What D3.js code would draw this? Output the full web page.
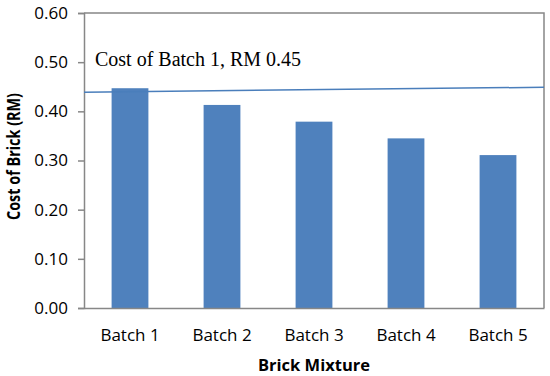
<!DOCTYPE html>
<html>
<head>
<meta charset="utf-8">
<script src="https://cdn.jsdelivr.net/npm/d3@7"></script>
<style>
  html, body { margin: 0; padding: 0; background: #fff; }
  svg { display: block; }
</style>
</head>
<body>
<svg id="chart" width="550" height="376"></svg>
<script>
const categories = ["Batch 1", "Batch 2", "Batch 3", "Batch 4", "Batch 5"];
const costValues = [0.447, 0.413, 0.379, 0.345, 0.311];
const yTicks = [0, 0.1, 0.2, 0.3, 0.4, 0.5, 0.6];
const refLineValues = [0.439, 0.449]; // start (left edge) and end (right edge)
const refLabel = "Cost of Batch 1, RM 0.45";
const xTitle = "Brick Mixture";
const yTitle = "Cost of Brick (RM)";

const svg = d3.select("#chart");
const plot = { left: 84, right: 544, top: 13, bottom: 308 };
const axisColor = "#878787";
const barColor = "#4f81bd";

const x = d3.scaleBand().domain(categories).range([plot.left, plot.right])
  .paddingInner(0.6).paddingOuter(0.3);
const y = d3.scaleLinear().domain([0, 0.6]).range([plot.bottom, plot.top]);

// frame (top and right)
svg.append("path")
  .attr("d", `M${plot.left},${plot.top}H${plot.right}V${plot.bottom}`)
  .attr("fill", "none").attr("stroke", axisColor).attr("stroke-width", 1.5);

// bars
svg.append("g").selectAll("rect").data(costValues).join("rect")
  .attr("x", (d, i) => x(categories[i]))
  .attr("y", d => y(d))
  .attr("width", x.bandwidth())
  .attr("height", d => y(0) - y(d))
  .attr("fill", barColor);

// y axis
const yAxis = d3.axisLeft(y).tickValues(yTicks).tickFormat(d3.format(".2f")).tickSize(6).tickPadding(10);
const gy = svg.append("g").attr("transform", `translate(${plot.left},0)`).call(yAxis);
gy.select(".domain").attr("stroke", axisColor).attr("stroke-width", 1.5);
gy.selectAll(".tick line").attr("stroke", axisColor).attr("stroke-width", 1.5);
gy.selectAll(".tick text").attr("fill", "#000")
  .style("font-family", "'Open Sans', sans-serif").style("font-size", "17px");

// x axis
const xAxis = d3.axisBottom(x).tickSize(0).tickPadding(0);
const gx = svg.append("g").attr("transform", `translate(0,${plot.bottom})`).call(xAxis);
gx.select(".domain").attr("stroke", axisColor).attr("stroke-width", 1.5);
gx.selectAll(".tick text").attr("fill", "#000").attr("dy", null).attr("y", 33)
  .style("font-family", "'Open Sans', sans-serif").style("font-size", "17px");

// reference line
svg.append("line")
  .attr("x1", plot.left).attr("x2", plot.right)
  .attr("y1", y(refLineValues[0])).attr("y2", y(refLineValues[1]))
  .attr("stroke", "#4a7ebb").attr("stroke-width", 1.5);

svg.append("text")
  .attr("x", 95).attr("y", 66)
  .style("font-family", "'Liberation Serif', 'Times New Roman', serif")
  .style("font-size", "20px")
  .text(refLabel);

// axis titles
svg.append("text")
  .attr("x", 314).attr("y", 371).attr("text-anchor", "middle")
  .style("font-family", "'Open Sans', sans-serif").style("font-size", "16.5px").style("font-weight", "bold")
  .text(xTitle);

svg.append("text")
  .attr("transform", "translate(20,156.5) rotate(-90)")
  .attr("text-anchor", "middle")
  .attr("textLength", 127).attr("lengthAdjust", "spacingAndGlyphs")
  .style("font-family", "'Open Sans', sans-serif").style("font-size", "17px").style("font-weight", "bold")
  .text(yTitle);
</script>
</body>
</html>
